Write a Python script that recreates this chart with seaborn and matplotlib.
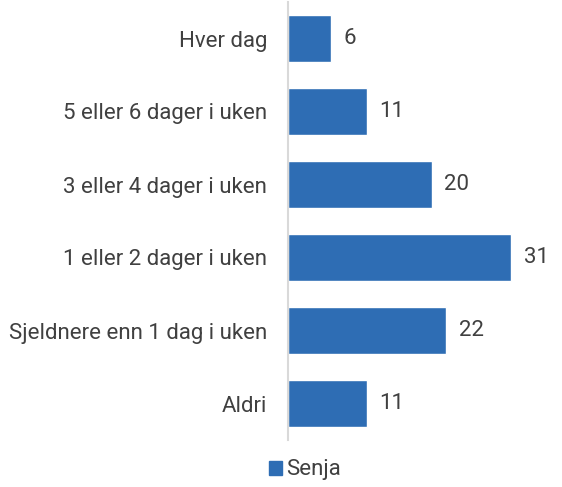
import matplotlib
matplotlib.use('Agg')
import matplotlib.pyplot as plt
import seaborn as sns
import pandas as pd

# data
categories = ['Hver dag', '5 eller 6 dager i uken', '3 eller 4 dager i uken',
              '1 eller 2 dager i uken', 'Sjeldnere enn 1 dag i uken', 'Aldri']
values = [6, 11, 20, 31, 22, 11]
series_name = 'Senja'

df = pd.DataFrame({'Kategori': categories, 'Andel': values, 'Serie': series_name})

sns.set_style('white')
plt.rcParams['font.family'] = ['Roboto', 'DejaVu Sans']

bar_color = '#2E6DB4'
text_color = '#404040'

fig = plt.figure(figsize=(5.62, 4.87), dpi=100)
ax = fig.add_axes([288 / 562, 1 - 440 / 487, 272 / 562, 438 / 487])

sns.barplot(data=df, x='Andel', y='Kategori', hue='Serie', palette=[bar_color],
            saturation=1, width=0.65, ax=ax, legend=False)

ax.set_xlim(0, 37.8)
ax.set_ylim(5.5, -0.5)
ax.set_xlabel('')
ax.set_ylabel('')
ax.set_xticks([])
for side in ['top', 'right', 'bottom']:
    ax.spines[side].set_visible(False)
ax.spines['left'].set_color('#d9d9d9')
ax.spines['left'].set_linewidth(1.5)
ax.tick_params(axis='y', length=0, pad=15, labelsize=16, labelcolor=text_color)

for container in ax.containers:
    ax.bar_label(container, labels=[str(v) for v in values], padding=9,
                 fontsize=16, color=text_color)

# legend below the chart
handle = plt.Rectangle((0, 0), 1, 1, color=bar_color)
fig.legend([handle], [series_name], loc='center', bbox_to_anchor=(305 / 562, 1 - 470 / 487),
           frameon=False, fontsize=16, labelcolor=text_color, handlelength=0.6,
           handleheight=0.6, handletextpad=0.2)

fig.savefig('out.png', dpi=100)
